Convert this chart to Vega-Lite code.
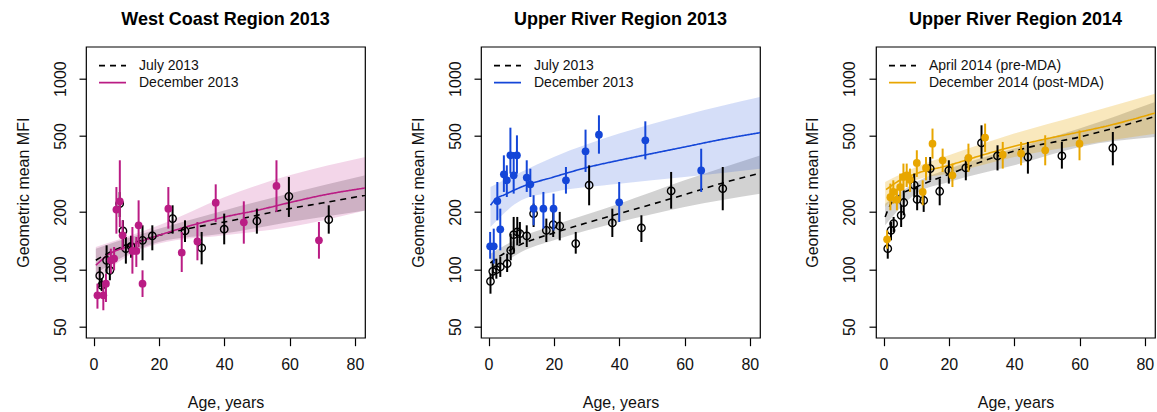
{
  "$schema": "https://vega.github.io/schema/vega-lite/v6.json",
  "padding": {"left": 14, "top": 10.7, "right": 0, "bottom": 0},
  "bounds": "flush",
  "spacing": 116,
  "datasets": {
    "p1pts": [
      {"s": "July 2013", "age": 1.9, "gm": 92.6, "lo": 80.8, "hi": 102.9},
      {"s": "July 2013", "age": 2.5, "gm": 82.4, "lo": 77, "hi": 89.3},
      {"s": "July 2013", "age": 4.0, "gm": 111.5, "lo": 94.9, "hi": 133.6},
      {"s": "July 2013", "age": 5.0, "gm": 98.8, "lo": 87.6, "hi": 113.7},
      {"s": "July 2013", "age": 8.0, "gm": 221, "lo": 188, "hi": 254},
      {"s": "July 2013", "age": 9.0, "gm": 159, "lo": 130.9, "hi": 180.7},
      {"s": "July 2013", "age": 9.9, "gm": 128.3, "lo": 107.1, "hi": 147.7},
      {"s": "July 2013", "age": 11.5, "gm": 132, "lo": 115, "hi": 150},
      {"s": "July 2013", "age": 15, "gm": 141.9, "lo": 111.5, "hi": 170.1},
      {"s": "July 2013", "age": 18, "gm": 149.6, "lo": 125.8, "hi": 170.1},
      {"s": "July 2013", "age": 24.2, "gm": 184.5, "lo": 153.8, "hi": 216.6},
      {"s": "July 2013", "age": 28, "gm": 159, "lo": 139.1, "hi": 180.7},
      {"s": "July 2013", "age": 33.1, "gm": 129.4, "lo": 106.2, "hi": 157},
      {"s": "July 2013", "age": 40, "gm": 162.4, "lo": 135.2, "hi": 195.9},
      {"s": "July 2013", "age": 50, "gm": 179.2, "lo": 153.8, "hi": 208},
      {"s": "July 2013", "age": 59.8, "gm": 241.5, "lo": 188.2, "hi": 305},
      {"s": "July 2013", "age": 72, "gm": 182, "lo": 153.8, "hi": 216.6},
      {"s": "December 2013", "age": 1.2, "gm": 73.1, "lo": 62.2, "hi": 84.1},
      {"s": "December 2013", "age": 3.0, "gm": 73.1, "lo": 61, "hi": 82.4},
      {"s": "December 2013", "age": 3.8, "gm": 84.1, "lo": 67.4, "hi": 94.9},
      {"s": "December 2013", "age": 5.3, "gm": 111.5, "lo": 94.9, "hi": 128.3},
      {"s": "December 2013", "age": 6.3, "gm": 113.7, "lo": 98.8, "hi": 130.9},
      {"s": "December 2013", "age": 7.0, "gm": 205.6, "lo": 153.8, "hi": 270},
      {"s": "December 2013", "age": 8.05, "gm": 227.3, "lo": 166.7, "hi": 373},
      {"s": "December 2013", "age": 8.9, "gm": 150.8, "lo": 125.8, "hi": 180.7},
      {"s": "December 2013", "age": 11.9, "gm": 124.8, "lo": 94.9, "hi": 166.7},
      {"s": "December 2013", "age": 13.1, "gm": 124.8, "lo": 102.9, "hi": 147.7},
      {"s": "December 2013", "age": 13.8, "gm": 170.1, "lo": 130.9, "hi": 230},
      {"s": "December 2013", "age": 15, "gm": 84.1, "lo": 71.6, "hi": 98.8},
      {"s": "December 2013", "age": 22.9, "gm": 208, "lo": 163.4, "hi": 270},
      {"s": "December 2013", "age": 27, "gm": 122.3, "lo": 96.8, "hi": 157},
      {"s": "December 2013", "age": 31.8, "gm": 140, "lo": 111.5, "hi": 177.1},
      {"s": "December 2013", "age": 37.4, "gm": 223.6, "lo": 177.1, "hi": 279},
      {"s": "December 2013", "age": 46, "gm": 176.3, "lo": 136.3, "hi": 227.3},
      {"s": "December 2013", "age": 56, "gm": 273.7, "lo": 200, "hi": 373},
      {"s": "December 2013", "age": 69, "gm": 141.9, "lo": 113.7, "hi": 177.1}
    ],
    "p1fit": [
      {"s": "July 2013", "age": 0.7, "v": 111.5},
      {"s": "July 2013", "age": 5, "v": 123},
      {"s": "July 2013", "age": 10, "v": 133.6},
      {"s": "July 2013", "age": 20, "v": 150.7},
      {"s": "July 2013", "age": 30, "v": 164.7},
      {"s": "July 2013", "age": 40, "v": 177},
      {"s": "July 2013", "age": 50, "v": 191.8},
      {"s": "July 2013", "age": 60, "v": 208},
      {"s": "July 2013", "age": 70, "v": 222.7},
      {"s": "July 2013", "age": 83.2, "v": 244.5},
      {"s": "December 2013", "age": 0.7, "v": 105},
      {"s": "December 2013", "age": 5, "v": 120.8},
      {"s": "December 2013", "age": 10, "v": 131},
      {"s": "December 2013", "age": 20, "v": 150.7},
      {"s": "December 2013", "age": 30, "v": 170},
      {"s": "December 2013", "age": 40, "v": 188},
      {"s": "December 2013", "age": 50, "v": 203.7},
      {"s": "December 2013", "age": 60, "v": 223.8},
      {"s": "December 2013", "age": 70, "v": 244.5},
      {"s": "December 2013", "age": 83.2, "v": 267}
    ],
    "p1band": [
      {"s": "July 2013", "age": 0.7, "lo": 94.9, "hi": 128.3},
      {"s": "July 2013", "age": 10, "lo": 118.4, "hi": 144.9},
      {"s": "July 2013", "age": 20, "lo": 139, "hi": 163.4},
      {"s": "July 2013", "age": 40, "lo": 153.9, "hi": 203.7},
      {"s": "July 2013", "age": 60, "lo": 177, "hi": 249.5},
      {"s": "July 2013", "age": 83.2, "lo": 203.7, "hi": 311},
      {"s": "December 2013", "age": 0.7, "lo": 87.5, "hi": 131},
      {"s": "December 2013", "age": 10, "lo": 116, "hi": 147.8},
      {"s": "December 2013", "age": 20, "lo": 136.5, "hi": 170},
      {"s": "December 2013", "age": 40, "lo": 150.7, "hi": 239},
      {"s": "December 2013", "age": 60, "lo": 166.7, "hi": 311},
      {"s": "December 2013", "age": 83.2, "lo": 203.7, "hi": 388}
    ],
    "p2pts": [
      {"s": "July 2013", "age": 0.6, "gm": 86.5, "lo": 74.5, "hi": 94.9},
      {"s": "July 2013", "age": 1.3, "gm": 97.6, "lo": 89.3, "hi": 109.2},
      {"s": "July 2013", "age": 2.4, "gm": 99.6, "lo": 89.3, "hi": 113.7},
      {"s": "July 2013", "age": 3.6, "gm": 102.9, "lo": 91.2, "hi": 116},
      {"s": "July 2013", "age": 5.7, "gm": 107.1, "lo": 96.8, "hi": 120.8},
      {"s": "July 2013", "age": 6.8, "gm": 125.8, "lo": 111.5, "hi": 153.8},
      {"s": "July 2013", "age": 7.7, "gm": 151.9, "lo": 120.8, "hi": 188.2},
      {"s": "July 2013", "age": 8.8, "gm": 157, "lo": 133.6, "hi": 188.2},
      {"s": "July 2013", "age": 9.6, "gm": 153.8, "lo": 136.3, "hi": 177.1},
      {"s": "July 2013", "age": 11.7, "gm": 149.6, "lo": 130.9, "hi": 170.1},
      {"s": "July 2013", "age": 13.8, "gm": 195.9, "lo": 166.7, "hi": 221},
      {"s": "July 2013", "age": 17.7, "gm": 160.2, "lo": 139.1, "hi": 184.5},
      {"s": "July 2013", "age": 19.8, "gm": 171.4, "lo": 147.7, "hi": 200},
      {"s": "July 2013", "age": 21.8, "gm": 168.7, "lo": 141.9, "hi": 200},
      {"s": "July 2013", "age": 26.7, "gm": 136.4, "lo": 120.8, "hi": 157},
      {"s": "July 2013", "age": 30.8, "gm": 276, "lo": 216.6, "hi": 351},
      {"s": "July 2013", "age": 37.9, "gm": 175, "lo": 147.7, "hi": 208},
      {"s": "July 2013", "age": 46.8, "gm": 164.8, "lo": 139.1, "hi": 192},
      {"s": "July 2013", "age": 55.9, "gm": 257.5, "lo": 208, "hi": 324},
      {"s": "July 2013", "age": 71.7, "gm": 265, "lo": 204, "hi": 344},
      {"s": "December 2013", "age": 0.5, "gm": 132, "lo": 113.7, "hi": 157},
      {"s": "December 2013", "age": 1.6, "gm": 132, "lo": 107.1, "hi": 163.4},
      {"s": "December 2013", "age": 2.7, "gm": 228, "lo": 180.7, "hi": 287},
      {"s": "December 2013", "age": 3.6, "gm": 162, "lo": 125.8, "hi": 208},
      {"s": "December 2013", "age": 4.7, "gm": 315, "lo": 254.5, "hi": 396},
      {"s": "December 2013", "age": 5.6, "gm": 293, "lo": 239.5, "hi": 351},
      {"s": "December 2013", "age": 6.7, "gm": 396, "lo": 317.5, "hi": 553},
      {"s": "December 2013", "age": 7.7, "gm": 311, "lo": 249.4, "hi": 412},
      {"s": "December 2013", "age": 8.7, "gm": 396, "lo": 317.5, "hi": 504},
      {"s": "December 2013", "age": 11.7, "gm": 302.6, "lo": 254.5, "hi": 373},
      {"s": "December 2013", "age": 12.8, "gm": 279, "lo": 239.5, "hi": 337},
      {"s": "December 2013", "age": 13.8, "gm": 208, "lo": 170.1, "hi": 244.6},
      {"s": "December 2013", "age": 16.8, "gm": 208, "lo": 163.4, "hi": 254.5},
      {"s": "December 2013", "age": 19.9, "gm": 208, "lo": 160, "hi": 249.4},
      {"s": "December 2013", "age": 23.7, "gm": 293, "lo": 249.4, "hi": 344},
      {"s": "December 2013", "age": 29.7, "gm": 416, "lo": 324, "hi": 540},
      {"s": "December 2013", "age": 33.8, "gm": 508, "lo": 404, "hi": 642},
      {"s": "December 2013", "age": 40, "gm": 224.4, "lo": 177.1, "hi": 287},
      {"s": "December 2013", "age": 48, "gm": 475, "lo": 377, "hi": 597},
      {"s": "December 2013", "age": 65.1, "gm": 330, "lo": 254.5, "hi": 429}
    ],
    "p2fit": [
      {"s": "July 2013", "age": 0.6, "v": 107.9},
      {"s": "July 2013", "age": 3, "v": 116},
      {"s": "July 2013", "age": 5, "v": 121.8},
      {"s": "July 2013", "age": 10, "v": 135.2},
      {"s": "July 2013", "age": 20, "v": 155.1},
      {"s": "July 2013", "age": 30, "v": 175},
      {"s": "July 2013", "age": 40, "v": 195.9},
      {"s": "July 2013", "age": 50, "v": 219.3},
      {"s": "July 2013", "age": 60, "v": 246.4},
      {"s": "July 2013", "age": 70, "v": 278},
      {"s": "July 2013", "age": 83.2, "v": 320},
      {"s": "December 2013", "age": 0.6, "v": 216.6},
      {"s": "December 2013", "age": 2, "v": 232},
      {"s": "December 2013", "age": 5, "v": 246.4},
      {"s": "December 2013", "age": 10, "v": 270},
      {"s": "December 2013", "age": 20, "v": 305},
      {"s": "December 2013", "age": 30, "v": 341.5},
      {"s": "December 2013", "age": 40, "v": 373},
      {"s": "December 2013", "age": 50, "v": 404.4},
      {"s": "December 2013", "age": 60, "v": 438},
      {"s": "December 2013", "age": 70, "v": 475},
      {"s": "December 2013", "age": 83.2, "v": 521}
    ],
    "p2band": [
      {"s": "July 2013", "age": 0.6, "lo": 94.9, "hi": 120.8},
      {"s": "July 2013", "age": 10, "lo": 123.3, "hi": 147.8},
      {"s": "July 2013", "age": 20, "lo": 142, "hi": 170.3},
      {"s": "July 2013", "age": 40, "lo": 177, "hi": 221},
      {"s": "July 2013", "age": 60, "lo": 212.5, "hi": 293},
      {"s": "July 2013", "age": 83.2, "lo": 249.5, "hi": 396},
      {"s": "December 2013", "age": 0.6, "lo": 166.7, "hi": 270},
      {"s": "December 2013", "age": 10, "lo": 230, "hi": 324},
      {"s": "December 2013", "age": 20, "lo": 254.7, "hi": 388},
      {"s": "December 2013", "age": 40, "lo": 281, "hi": 515},
      {"s": "December 2013", "age": 60, "lo": 305, "hi": 643},
      {"s": "December 2013", "age": 83.2, "lo": 337, "hi": 801}
    ],
    "p3pts": [
      {"s": "April 2014 (pre-MDA)", "age": 1.3, "gm": 128.3, "lo": 113.7, "hi": 141.9},
      {"s": "April 2014 (pre-MDA)", "age": 2.3, "gm": 160.2, "lo": 141.9, "hi": 177.1},
      {"s": "April 2014 (pre-MDA)", "age": 3.1, "gm": 173.6, "lo": 157, "hi": 188.2},
      {"s": "April 2014 (pre-MDA)", "age": 5.4, "gm": 192, "lo": 166.7, "hi": 216.6},
      {"s": "April 2014 (pre-MDA)", "age": 6.2, "gm": 224, "lo": 192, "hi": 259.6},
      {"s": "April 2014 (pre-MDA)", "age": 9.4, "gm": 276, "lo": 239.5, "hi": 317.5},
      {"s": "April 2014 (pre-MDA)", "age": 10.3, "gm": 232.6, "lo": 204, "hi": 270},
      {"s": "April 2014 (pre-MDA)", "age": 12.3, "gm": 230, "lo": 200, "hi": 259.6},
      {"s": "April 2014 (pre-MDA)", "age": 14.3, "gm": 337.5, "lo": 293, "hi": 388},
      {"s": "April 2014 (pre-MDA)", "age": 17.2, "gm": 256.6, "lo": 216.6, "hi": 299},
      {"s": "April 2014 (pre-MDA)", "age": 20, "gm": 330, "lo": 281.5, "hi": 373},
      {"s": "April 2014 (pre-MDA)", "age": 25.2, "gm": 340, "lo": 293, "hi": 388},
      {"s": "April 2014 (pre-MDA)", "age": 30, "gm": 460, "lo": 380.7, "hi": 569},
      {"s": "April 2014 (pre-MDA)", "age": 34.9, "gm": 393, "lo": 330, "hi": 447},
      {"s": "April 2014 (pre-MDA)", "age": 44.2, "gm": 388, "lo": 317.5, "hi": 465.5},
      {"s": "April 2014 (pre-MDA)", "age": 54.6, "gm": 393, "lo": 337.3, "hi": 465.5},
      {"s": "April 2014 (pre-MDA)", "age": 70.2, "gm": 432.5, "lo": 351, "hi": 525},
      {"s": "December 2014 (post-MDA)", "age": 1.1, "gm": 143.6, "lo": 128.3, "hi": 160.2},
      {"s": "December 2014 (post-MDA)", "age": 2.1, "gm": 239, "lo": 204, "hi": 281.4},
      {"s": "December 2014 (post-MDA)", "age": 3.0, "gm": 254.7, "lo": 221, "hi": 293},
      {"s": "December 2014 (post-MDA)", "age": 4.1, "gm": 231.9, "lo": 204, "hi": 265},
      {"s": "December 2014 (post-MDA)", "age": 5.1, "gm": 270, "lo": 230, "hi": 317.5},
      {"s": "December 2014 (post-MDA)", "age": 6.1, "gm": 305, "lo": 259.6, "hi": 358.4},
      {"s": "December 2014 (post-MDA)", "age": 7.1, "gm": 311, "lo": 270, "hi": 358.4},
      {"s": "December 2014 (post-MDA)", "age": 8.1, "gm": 295, "lo": 254.5, "hi": 337.3},
      {"s": "December 2014 (post-MDA)", "age": 10.2, "gm": 361, "lo": 305, "hi": 421},
      {"s": "December 2014 (post-MDA)", "age": 12, "gm": 254.7, "lo": 216.6, "hi": 293},
      {"s": "December 2014 (post-MDA)", "age": 13, "gm": 340, "lo": 293, "hi": 388},
      {"s": "December 2014 (post-MDA)", "age": 15, "gm": 456, "lo": 380.7, "hi": 547},
      {"s": "December 2014 (post-MDA)", "age": 18.1, "gm": 373, "lo": 324, "hi": 429.5},
      {"s": "December 2014 (post-MDA)", "age": 21.1, "gm": 311, "lo": 270, "hi": 358.4},
      {"s": "December 2014 (post-MDA)", "age": 26, "gm": 383.7, "lo": 324, "hi": 456},
      {"s": "December 2014 (post-MDA)", "age": 31.1, "gm": 490.7, "lo": 412.5, "hi": 581},
      {"s": "December 2014 (post-MDA)", "age": 36.5, "gm": 399, "lo": 337.3, "hi": 465.5},
      {"s": "December 2014 (post-MDA)", "age": 42.1, "gm": 404.6, "lo": 351, "hi": 465.5},
      {"s": "December 2014 (post-MDA)", "age": 49.5, "gm": 420.7, "lo": 351, "hi": 504.6},
      {"s": "December 2014 (post-MDA)", "age": 60, "gm": 456, "lo": 373, "hi": 535}
    ],
    "p3fit": [
      {"s": "April 2014 (pre-MDA)", "age": 0.5, "v": 188},
      {"s": "April 2014 (pre-MDA)", "age": 2, "v": 216.6},
      {"s": "April 2014 (pre-MDA)", "age": 5, "v": 244.5},
      {"s": "April 2014 (pre-MDA)", "age": 10, "v": 270},
      {"s": "April 2014 (pre-MDA)", "age": 15, "v": 293},
      {"s": "April 2014 (pre-MDA)", "age": 20, "v": 315},
      {"s": "April 2014 (pre-MDA)", "age": 25, "v": 340},
      {"s": "April 2014 (pre-MDA)", "age": 35, "v": 393},
      {"s": "April 2014 (pre-MDA)", "age": 45, "v": 438.5},
      {"s": "April 2014 (pre-MDA)", "age": 60, "v": 494},
      {"s": "April 2014 (pre-MDA)", "age": 70, "v": 547},
      {"s": "April 2014 (pre-MDA)", "age": 83.2, "v": 634},
      {"s": "December 2014 (post-MDA)", "age": 0.8, "v": 262},
      {"s": "December 2014 (post-MDA)", "age": 5, "v": 293},
      {"s": "December 2014 (post-MDA)", "age": 10, "v": 317.7},
      {"s": "December 2014 (post-MDA)", "age": 20, "v": 351},
      {"s": "December 2014 (post-MDA)", "age": 30, "v": 396},
      {"s": "December 2014 (post-MDA)", "age": 40, "v": 441.6},
      {"s": "December 2014 (post-MDA)", "age": 50, "v": 484},
      {"s": "December 2014 (post-MDA)", "age": 60, "v": 525},
      {"s": "December 2014 (post-MDA)", "age": 70, "v": 573},
      {"s": "December 2014 (post-MDA)", "age": 83.2, "v": 661}
    ],
    "p3band": [
      {"s": "April 2014 (pre-MDA)", "age": 0.5, "lo": 170, "hi": 221},
      {"s": "April 2014 (pre-MDA)", "age": 10, "lo": 249.5, "hi": 287},
      {"s": "April 2014 (pre-MDA)", "age": 20, "lo": 287, "hi": 337},
      {"s": "April 2014 (pre-MDA)", "age": 40, "lo": 351, "hi": 429.6},
      {"s": "April 2014 (pre-MDA)", "age": 60, "lo": 438.5, "hi": 547},
      {"s": "April 2014 (pre-MDA)", "age": 83.2, "lo": 494, "hi": 755},
      {"s": "December 2014 (post-MDA)", "age": 0.5, "lo": 212.5, "hi": 287},
      {"s": "December 2014 (post-MDA)", "age": 10, "lo": 293, "hi": 344},
      {"s": "December 2014 (post-MDA)", "age": 20, "lo": 317.7, "hi": 396},
      {"s": "December 2014 (post-MDA)", "age": 40, "lo": 388, "hi": 515},
      {"s": "December 2014 (post-MDA)", "age": 60, "lo": 447, "hi": 643},
      {"s": "December 2014 (post-MDA)", "age": 83.2, "lo": 514, "hi": 834}
    ]
  },
  "hconcat": [
    {
      "title": {"text": "West Coast Region 2013"},
      "width": 279, "height": 291,
      "layer": [
        {"data": {"name": "p1band"}, "transform": [{"filter": "datum.s === 'July 2013'"}],
         "mark": {"type": "area", "color": "#7f7f7f", "opacity": 0.35, "clip": true, "interpolate": "monotone"},
         "encoding": {
           "x": {"field": "age", "type": "quantitative", "scale": {"domain": [-2.3, 83.1], "nice": false, "zero": false}, "axis": {"values": [0, 20, 40, 60, 80], "title": "Age, years"}},
           "y": {"field": "lo", "type": "quantitative", "scale": {"type": "log", "domain": [43.8, 1470], "nice": false}, "axis": {"values": [50, 100, 200, 500, 1000], "format": "d", "title": "Geometric mean MFI"}},
           "y2": {"field": "hi"}}},
        {"data": {"name": "p1band"}, "transform": [{"filter": "datum.s === 'December 2013'"}],
         "mark": {"type": "area", "color": "#BA1C84", "opacity": 0.18, "clip": true, "interpolate": "monotone"},
         "encoding": {
           "x": {"field": "age", "type": "quantitative"},
           "y": {"field": "lo", "type": "quantitative"},
           "y2": {"field": "hi"}}},
        {"data": {"name": "p1fit"},
         "mark": {"type": "line", "strokeWidth": 1.6, "clip": true, "interpolate": "monotone"},
         "encoding": {
           "x": {"field": "age", "type": "quantitative"},
           "y": {"field": "v", "type": "quantitative"},
           "color": {"field": "s", "type": "nominal", "scale": {"domain": ["July 2013", "December 2013"], "range": ["#000000", "#BA1C84"]}, "legend": {"title": null}},
           "strokeDash": {"field": "s", "type": "nominal", "scale": {"domain": ["July 2013", "December 2013"], "range": [[6, 5], [1, 0]]}, "legend": {"title": null}}}},
        {"data": {"name": "p1pts"}, "transform": [{"filter": "datum.s === 'July 2013'"}],
         "mark": {"type": "rule", "color": "#000000", "strokeWidth": 2},
         "encoding": {"x": {"field": "age", "type": "quantitative"}, "y": {"field": "lo", "type": "quantitative"}, "y2": {"field": "hi"}}},
        {"data": {"name": "p1pts"}, "transform": [{"filter": "datum.s === 'July 2013'"}],
         "mark": {"type": "point", "filled": false, "color": "#000000", "strokeWidth": 1.4, "size": 55, "opacity": 1},
         "encoding": {"x": {"field": "age", "type": "quantitative"}, "y": {"field": "gm", "type": "quantitative"}}},
        {"data": {"name": "p1pts"}, "transform": [{"filter": "datum.s === 'December 2013'"}],
         "mark": {"type": "rule", "color": "#BA1C84", "strokeWidth": 2},
         "encoding": {"x": {"field": "age", "type": "quantitative"}, "y": {"field": "lo", "type": "quantitative"}, "y2": {"field": "hi"}}},
        {"data": {"name": "p1pts"}, "transform": [{"filter": "datum.s === 'December 2013'"}],
         "mark": {"type": "point", "filled": true, "color": "#BA1C84", "size": 60, "opacity": 1},
         "encoding": {"x": {"field": "age", "type": "quantitative"}, "y": {"field": "gm", "type": "quantitative"}}}
      ]
    },
    {
      "title": {"text": "Upper River Region 2013"},
      "width": 279, "height": 291,
      "layer": [
        {"data": {"name": "p2band"}, "transform": [{"filter": "datum.s === 'July 2013'"}],
         "mark": {"type": "area", "color": "#7f7f7f", "opacity": 0.35, "clip": true, "interpolate": "monotone"},
         "encoding": {
           "x": {"field": "age", "type": "quantitative", "scale": {"domain": [-2.3, 83.1], "nice": false, "zero": false}, "axis": {"values": [0, 20, 40, 60, 80], "title": "Age, years"}},
           "y": {"field": "lo", "type": "quantitative", "scale": {"type": "log", "domain": [43.8, 1470], "nice": false}, "axis": {"values": [50, 100, 200, 500, 1000], "format": "d", "title": "Geometric mean MFI"}},
           "y2": {"field": "hi"}}},
        {"data": {"name": "p2band"}, "transform": [{"filter": "datum.s === 'December 2013'"}],
         "mark": {"type": "area", "color": "#1446D8", "opacity": 0.18, "clip": true, "interpolate": "monotone"},
         "encoding": {
           "x": {"field": "age", "type": "quantitative"},
           "y": {"field": "lo", "type": "quantitative"},
           "y2": {"field": "hi"}}},
        {"data": {"name": "p2fit"},
         "mark": {"type": "line", "strokeWidth": 1.6, "clip": true, "interpolate": "monotone"},
         "encoding": {
           "x": {"field": "age", "type": "quantitative"},
           "y": {"field": "v", "type": "quantitative"},
           "color": {"field": "s", "type": "nominal", "scale": {"domain": ["July 2013", "December 2013"], "range": ["#000000", "#1446D8"]}, "legend": {"title": null}},
           "strokeDash": {"field": "s", "type": "nominal", "scale": {"domain": ["July 2013", "December 2013"], "range": [[6, 5], [1, 0]]}, "legend": {"title": null}}}},
        {"data": {"name": "p2pts"}, "transform": [{"filter": "datum.s === 'July 2013'"}],
         "mark": {"type": "rule", "color": "#000000", "strokeWidth": 2},
         "encoding": {"x": {"field": "age", "type": "quantitative"}, "y": {"field": "lo", "type": "quantitative"}, "y2": {"field": "hi"}}},
        {"data": {"name": "p2pts"}, "transform": [{"filter": "datum.s === 'July 2013'"}],
         "mark": {"type": "point", "filled": false, "color": "#000000", "strokeWidth": 1.4, "size": 55, "opacity": 1},
         "encoding": {"x": {"field": "age", "type": "quantitative"}, "y": {"field": "gm", "type": "quantitative"}}},
        {"data": {"name": "p2pts"}, "transform": [{"filter": "datum.s === 'December 2013'"}],
         "mark": {"type": "rule", "color": "#1446D8", "strokeWidth": 2},
         "encoding": {"x": {"field": "age", "type": "quantitative"}, "y": {"field": "lo", "type": "quantitative"}, "y2": {"field": "hi"}}},
        {"data": {"name": "p2pts"}, "transform": [{"filter": "datum.s === 'December 2013'"}],
         "mark": {"type": "point", "filled": true, "color": "#1446D8", "size": 60, "opacity": 1},
         "encoding": {"x": {"field": "age", "type": "quantitative"}, "y": {"field": "gm", "type": "quantitative"}}}
      ]
    },
    {
      "title": {"text": "Upper River Region 2014"},
      "width": 279, "height": 291,
      "layer": [
        {"data": {"name": "p3band"}, "transform": [{"filter": "datum.s === 'April 2014 (pre-MDA)'"}],
         "mark": {"type": "area", "color": "#7f7f7f", "opacity": 0.35, "clip": true, "interpolate": "monotone"},
         "encoding": {
           "x": {"field": "age", "type": "quantitative", "scale": {"domain": [-2.3, 83.1], "nice": false, "zero": false}, "axis": {"values": [0, 20, 40, 60, 80], "title": "Age, years"}},
           "y": {"field": "lo", "type": "quantitative", "scale": {"type": "log", "domain": [43.8, 1470], "nice": false}, "axis": {"values": [50, 100, 200, 500, 1000], "format": "d", "title": "Geometric mean MFI"}},
           "y2": {"field": "hi"}}},
        {"data": {"name": "p3band"}, "transform": [{"filter": "datum.s === 'December 2014 (post-MDA)'"}],
         "mark": {"type": "area", "color": "#E8A600", "opacity": 0.26, "clip": true, "interpolate": "monotone"},
         "encoding": {
           "x": {"field": "age", "type": "quantitative"},
           "y": {"field": "lo", "type": "quantitative"},
           "y2": {"field": "hi"}}},
        {"data": {"name": "p3fit"},
         "mark": {"type": "line", "strokeWidth": 1.6, "clip": true, "interpolate": "monotone"},
         "encoding": {
           "x": {"field": "age", "type": "quantitative"},
           "y": {"field": "v", "type": "quantitative"},
           "color": {"field": "s", "type": "nominal", "scale": {"domain": ["April 2014 (pre-MDA)", "December 2014 (post-MDA)"], "range": ["#000000", "#E8A600"]}, "legend": {"title": null}},
           "strokeDash": {"field": "s", "type": "nominal", "scale": {"domain": ["April 2014 (pre-MDA)", "December 2014 (post-MDA)"], "range": [[6, 5], [1, 0]]}, "legend": {"title": null}}}},
        {"data": {"name": "p3pts"}, "transform": [{"filter": "datum.s === 'April 2014 (pre-MDA)'"}],
         "mark": {"type": "rule", "color": "#000000", "strokeWidth": 2},
         "encoding": {"x": {"field": "age", "type": "quantitative"}, "y": {"field": "lo", "type": "quantitative"}, "y2": {"field": "hi"}}},
        {"data": {"name": "p3pts"}, "transform": [{"filter": "datum.s === 'April 2014 (pre-MDA)'"}],
         "mark": {"type": "point", "filled": false, "color": "#000000", "strokeWidth": 1.4, "size": 55, "opacity": 1},
         "encoding": {"x": {"field": "age", "type": "quantitative"}, "y": {"field": "gm", "type": "quantitative"}}},
        {"data": {"name": "p3pts"}, "transform": [{"filter": "datum.s === 'December 2014 (post-MDA)'"}],
         "mark": {"type": "rule", "color": "#E8A600", "strokeWidth": 2},
         "encoding": {"x": {"field": "age", "type": "quantitative"}, "y": {"field": "lo", "type": "quantitative"}, "y2": {"field": "hi"}}},
        {"data": {"name": "p3pts"}, "transform": [{"filter": "datum.s === 'December 2014 (post-MDA)'"}],
         "mark": {"type": "point", "filled": true, "color": "#E8A600", "size": 60, "opacity": 1},
         "encoding": {"x": {"field": "age", "type": "quantitative"}, "y": {"field": "gm", "type": "quantitative"}}}
      ]
    }
  ],
  "resolve": {"scale": {"color": "independent", "strokeDash": "independent", "x": "independent", "y": "independent"}},
  "config": {
    "font": "Liberation Sans",
    "view": {"stroke": "#000000", "strokeWidth": 1.2},
    "axis": {"grid": false, "domain": false, "tickColor": "#000000", "tickWidth": 1.2, "tickSize": 8, "labelColor": "#111111", "labelFontSize": 16, "titleFontSize": 16, "titleFontWeight": "normal", "titleColor": "#111111", "labelFont": "Liberation Sans", "titleFont": "Liberation Sans", "labelOverlap": false, "labelBound": false, "labelFlush": false},
    "axisX": {"labelPadding": 11, "titlePadding": 22},
    "axisY": {"labelAngle": 270, "labelAlign": "center", "labelBaseline": "alphabetic", "labelPadding": 14, "titlePadding": 21, "tickSize": 7},
    "title": {"fontSize": 18, "fontWeight": "bold", "color": "#000000", "offset": 17.3, "font": "Liberation Sans", "anchor": "middle"},
    "legend": {"orient": "none", "legendX": 19.5, "legendY": 12, "padding": 0, "symbolType": "M-2.7,0H2.7", "symbolSize": 100, "symbolStrokeWidth": 1.8, "labelOffset": 19.5, "labelFontSize": 14, "labelColor": "#111111", "labelFont": "Liberation Sans", "labelLimit": 400, "rowPadding": 3, "direction": "vertical"}
  }
}
